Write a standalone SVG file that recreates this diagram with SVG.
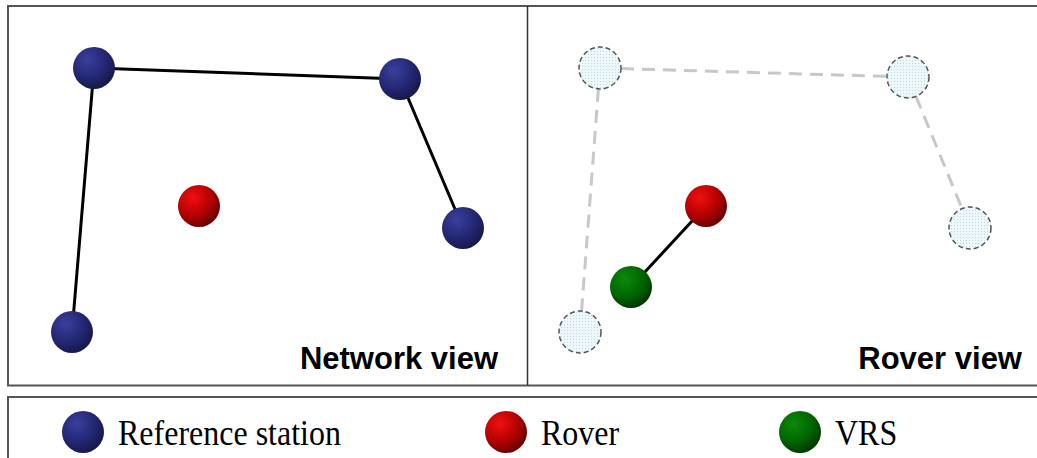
<svg xmlns="http://www.w3.org/2000/svg" width="1037" height="458" viewBox="0 0 1037 458">
<style>
.frame{fill:none;stroke:#555;stroke-width:2}
.div{stroke:#333;stroke-width:1.5}
.net{stroke:#000;stroke-width:3;fill:none}
.ghost{stroke:#c8c8c8;stroke-width:3;stroke-dasharray:13 8;fill:none}
.vc{fill:url(#dots);stroke:#555;stroke-width:1.5;stroke-dasharray:5 3}
.title{font-family:"Liberation Sans",Arial,sans-serif;font-weight:bold;font-size:31px;fill:#000;text-anchor:end}
.leg{font-family:"Liberation Serif","Times New Roman",serif;font-size:32px;fill:#000}
</style>
<defs>
<radialGradient id="gb" cx="0.35" cy="0.3" r="0.75">
<stop offset="0" stop-color="#3a3f9e"/><stop offset="0.6" stop-color="#232670"/><stop offset="1" stop-color="#151845"/>
</radialGradient>
<radialGradient id="gr" cx="0.35" cy="0.3" r="0.75">
<stop offset="0" stop-color="#f01010"/><stop offset="0.6" stop-color="#b00000"/><stop offset="1" stop-color="#600000"/>
</radialGradient>
<radialGradient id="gg" cx="0.35" cy="0.3" r="0.75">
<stop offset="0" stop-color="#0b8a0b"/><stop offset="0.6" stop-color="#006400"/><stop offset="1" stop-color="#003300"/>
</radialGradient>
<pattern id="dots" width="3" height="3" patternUnits="userSpaceOnUse">
<rect width="3" height="3" fill="#eef8fa"/><rect width="1" height="1" fill="#b8dce4"/>
</pattern>
</defs>
<rect x="8" y="6" width="1040" height="379.5" class="frame"/>
<line x1="527.5" y1="6" x2="527.5" y2="385" class="div"/>
<rect x="8" y="397" width="1040" height="70" class="frame"/>
<g id="connectors">
<line x1="94" y1="68" x2="400" y2="79" class="net"/>
<line x1="94" y1="68" x2="72" y2="332" class="net"/>
<line x1="400" y1="79" x2="463" y2="228" class="net"/>
<line x1="600" y1="68" x2="908" y2="77" class="ghost"/>
<line x1="600" y1="68" x2="580" y2="332" class="ghost"/>
<line x1="908" y1="77" x2="970" y2="228" class="ghost"/>
<line x1="706" y1="206" x2="631" y2="287" class="net"/>
</g>
<g id="net-ref1"><circle cx="94" cy="68" r="21" fill="url(#gb)"/></g>
<g id="net-ref2"><circle cx="400" cy="79" r="21" fill="url(#gb)"/></g>
<g id="net-ref3"><circle cx="463" cy="228" r="21" fill="url(#gb)"/></g>
<g id="net-ref4"><circle cx="72" cy="332" r="21" fill="url(#gb)"/></g>
<g id="net-rover"><circle cx="199" cy="206" r="21" fill="url(#gr)"/></g>
<g id="rov-ref1"><circle cx="600" cy="68" r="21" class="vc"/></g>
<g id="rov-ref2"><circle cx="908" cy="77" r="21" class="vc"/></g>
<g id="rov-ref3"><circle cx="970" cy="228" r="21" class="vc"/></g>
<g id="rov-ref4"><circle cx="580" cy="332" r="21" class="vc"/></g>
<g id="rov-rover"><circle cx="706" cy="206" r="21" fill="url(#gr)"/></g>
<g id="rov-vrs"><circle cx="631" cy="287" r="21" fill="url(#gg)"/></g>
<text x="498" y="369" class="title">Network view</text>
<text x="1022" y="369" class="title">Rover view</text>
<g id="legend-ref"><circle cx="83" cy="432" r="21" fill="url(#gb)"/><text transform="translate(118,445) scale(1,1.12)" class="leg">Reference station</text></g>
<g id="legend-rover"><circle cx="506" cy="432" r="21" fill="url(#gr)"/><text transform="translate(541,445) scale(1,1.12)" class="leg">Rover</text></g>
<g id="legend-vrs"><circle cx="800" cy="432" r="21" fill="url(#gg)"/><text transform="translate(835,445) scale(1,1.12)" class="leg">VRS</text></g>
</svg>
